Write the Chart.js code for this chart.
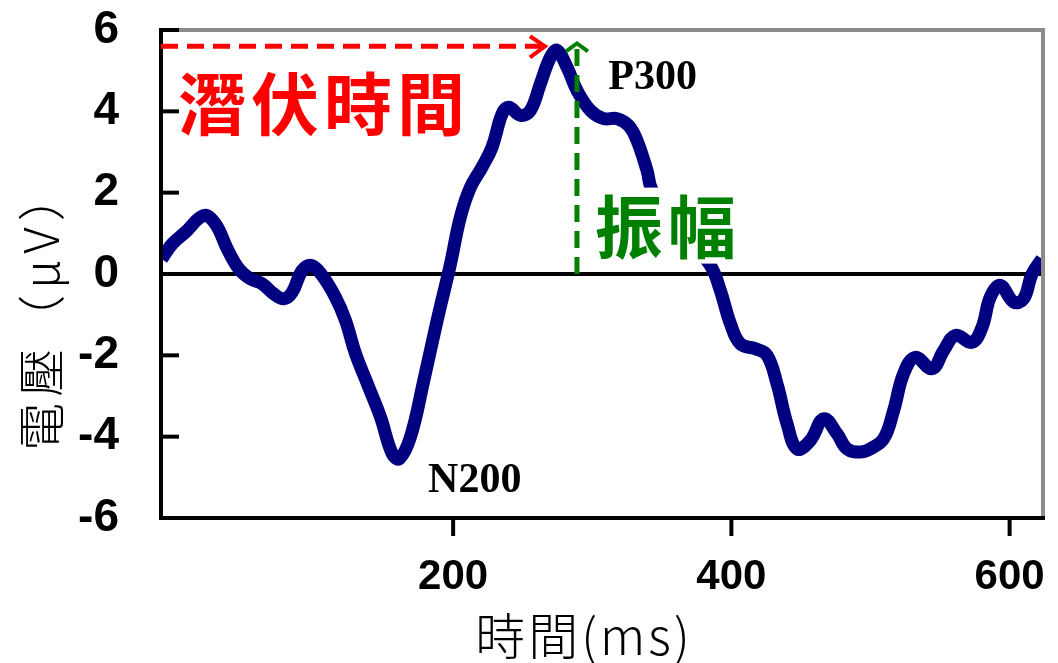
<!DOCTYPE html>
<html>
<head>
<meta charset="utf-8">
<script src="https://cdn.jsdelivr.net/npm/chart.js@4.4.1/dist/chart.umd.min.js"></script>
<style>
  html, body { margin: 0; padding: 0; background: #ffffff; }
  #wrap { width: 1058px; height: 663px; position: relative; }
</style>
</head>
<body>
<div id="wrap"><canvas id="erp"></canvas></div>
<script>
// ERP waveform: time (ms) and voltage (µV)
const timeMs = [-9.5, -1.9, 7.6, 20.8, 29.2, 37.6, 45.9, 54.3, 62.7, 71.1, 78.3, 84.3, 91.5, 98.2, 105.9,
  115.4, 122.6, 129.8, 139.3, 147.8, 156.2, 161.4, 169.3, 178.9, 188.5, 198.1, 205.2, 212.4, 220.8, 228.0,
  235.2, 240.0, 248.4, 255.5, 262.7, 269.9, 274.7, 281.9, 289.1, 298.7, 308.2, 317.9, 326.2, 332.2, 339.4,
  343.2, 364.0, 384.9, 392.1, 399.3, 406.5, 417.3, 425.7, 432.8, 440.0, 447.2, 456.8, 466.3, 476.0, 483.1,
  492.7, 499.9, 509.5, 516.6, 523.8, 532.2, 544.2, 552.6, 561.0, 573.0, 580.2, 586.1, 593.3, 602.9, 610.1,
  616.1, 623.3];
const voltageUv = [0.37, 0.74, 1.03, 1.44, 1.23, 0.62, 0.13, -0.12, -0.24, -0.49, -0.61, -0.45, 0.09, 0.21, -0.04,
  -0.57, -1.14, -1.96, -2.78, -3.52, -4.42, -4.54, -4.01, -2.62, -1.14, 0.25, 1.40, 2.13, 2.63, 3.12,
  3.94, 4.10, 3.90, 4.02, 4.68, 5.33, 5.50, 5.08, 4.51, 4.02, 3.82, 3.82, 3.65, 3.28, 2.54,
  2.05, 1.07, 0.21, -0.41, -1.22, -1.72, -1.84, -2.00, -2.70, -3.68, -4.30, -4.09, -3.56, -3.93, -4.30,
  -4.38, -4.30, -4.05, -3.36, -2.45, -2.05, -2.33, -1.88, -1.51, -1.68, -1.31, -0.57, -0.28, -0.69, -0.61,
  0.00, 0.37];

// Axis ranges and tick labels
const xRange = [-10, 624];
const xTickValues = [200, 400, 600];
const yRange = [-6, 6];
const yTickValues = [-6, -4, -2, 0, 2, 4, 6];

// Annotations (data units)
const latencyArrow = { y: 5.6, fromMs: -10, toMs: 266 };
const amplitudeArrow = { ms: 289, fromUv: 0, toUv: 5.67 };
const peakLabels = [
  { text: 'P300', ms: 311.5, uv: 4.56 },
  { text: 'N200', ms: 182, uv: -5.35 }
];
const latencyLabel = { text: '潛伏時間', ms: 2.3, uv: 4.22 };
const amplitudeLabel = { text: '振幅', ms: 302.0, uv: 1.19 };
const xTitle = '時間(ms)';
const yTitle = '電壓（μV）';

const CJK = '"Noto Sans CJK TC", "Noto Sans CJK SC", sans-serif';

function chevron(ctx, tipX, tipY, dx1, dy1, dx2, dy2) {
  ctx.beginPath();
  ctx.moveTo(tipX + dx1, tipY + dy1);
  ctx.lineTo(tipX, tipY);
  ctx.lineTo(tipX + dx2, tipY + dy2);
  ctx.stroke();
}

const erpDecor = {
  id: 'erpDecor',
  beforeDatasetsDraw(chart) {
    const { ctx, chartArea: a, scales: { y } } = chart;
    const y0 = y.getPixelForValue(0);
    ctx.save();
    ctx.strokeStyle = '#000';
    ctx.lineWidth = 4;
    ctx.beginPath();
    ctx.moveTo(a.left, y0);
    ctx.lineTo(a.right, y0);
    ctx.stroke();
    ctx.restore();
  },
  afterDatasetsDraw(chart) {
    const { ctx, chartArea: a, scales: { x, y } } = chart;
    ctx.save();

    // frame: grey top/right, black left/bottom
    ctx.lineCap = 'square';
    ctx.strokeStyle = '#8c8c8c';
    ctx.lineWidth = 4;
    ctx.beginPath();
    ctx.moveTo(a.left, a.top);
    ctx.lineTo(a.right, a.top);
    ctx.lineTo(a.right, a.bottom);
    ctx.stroke();
    ctx.strokeStyle = '#000';
    ctx.beginPath();
    ctx.moveTo(a.left, a.top);
    ctx.lineTo(a.left, a.bottom);
    ctx.lineTo(a.right, a.bottom);
    ctx.stroke();

    // tick marks: inside on y, outside on x
    ctx.lineCap = 'butt';
    ctx.lineWidth = 4;
    yTickValues.forEach(v => {
      const py = y.getPixelForValue(v);
      ctx.beginPath();
      ctx.moveTo(a.left, py);
      ctx.lineTo(a.left + 18, py);
      ctx.stroke();
    });
    xTickValues.forEach(v => {
      const px = x.getPixelForValue(v);
      ctx.beginPath();
      ctx.moveTo(px, a.bottom);
      ctx.lineTo(px, a.bottom + 18);
      ctx.stroke();
    });

    // amplitude label on a white patch
    ctx.font = `bold 68px ${CJK}`;
    ctx.letterSpacing = '5px';
    const ampX = x.getPixelForValue(amplitudeLabel.ms);
    const ampY = y.getPixelForValue(amplitudeLabel.uv);
    const ampW = ctx.measureText(amplitudeLabel.text).width;
    ctx.fillStyle = '#ffffff';
    ctx.fillRect(ampX - 6, ampY - 38, ampW + 10, 76);
    ctx.fillStyle = '#008000';
    ctx.textBaseline = 'middle';
    ctx.textAlign = 'left';
    ctx.fillText(amplitudeLabel.text, ampX, ampY + 2);

    // latency label
    ctx.fillStyle = '#ff0000';
    ctx.fillText(latencyLabel.text, x.getPixelForValue(latencyLabel.ms), y.getPixelForValue(latencyLabel.uv) + 2);
    ctx.letterSpacing = '0px';

    // latency arrow (red, dashed, horizontal)
    ctx.strokeStyle = '#ff0000';
    ctx.lineWidth = 5;
    const ly = y.getPixelForValue(latencyArrow.y);
    const lx0 = x.getPixelForValue(latencyArrow.fromMs);
    const lx1 = x.getPixelForValue(latencyArrow.toMs);
    ctx.setLineDash([17, 9]);
    ctx.beginPath();
    ctx.moveTo(lx0, ly);
    ctx.lineTo(lx1 - 4, ly);
    ctx.stroke();
    ctx.setLineDash([]);
    ctx.lineWidth = 4;
    chevron(ctx, lx1, ly, -15, -10, -15, 11);

    // amplitude arrow (green, dashed, vertical)
    ctx.strokeStyle = '#008000';
    ctx.lineWidth = 5;
    const ax = x.getPixelForValue(amplitudeArrow.ms);
    const ay0 = y.getPixelForValue(amplitudeArrow.fromUv);
    const ay1 = y.getPixelForValue(amplitudeArrow.toUv);
    ctx.setLineDash([17, 9]);
    ctx.beginPath();
    ctx.moveTo(ax, ay0);
    ctx.lineTo(ax, ay1 + 4);
    ctx.stroke();
    ctx.setLineDash([]);
    ctx.lineWidth = 4;
    chevron(ctx, ax, ay1, -11, 8, 11, 8);

    // component labels
    ctx.fillStyle = '#000';
    ctx.font = 'bold 42px "Liberation Serif", "Times New Roman", serif';
    ctx.textBaseline = 'alphabetic';
    peakLabels.forEach(p => {
      ctx.fillText(p.text, x.getPixelForValue(p.ms), y.getPixelForValue(p.uv));
    });

    // axis titles
    ctx.font = `300 50px ${CJK}`;
    ctx.letterSpacing = '3px';
    ctx.textAlign = 'center';
    ctx.textBaseline = 'middle';
    ctx.fillText(xTitle, (a.left + a.right) / 2 - 18, a.bottom + 118);
    ctx.translate(a.left - 120, 309);
    ctx.rotate(-Math.PI / 2);
    ctx.font = `300 48px ${CJK}`;
    ctx.letterSpacing = '6px';
    ctx.fillText(yTitle, 0, 0);
    ctx.letterSpacing = '0px';

    ctx.restore();
  }
};

new Chart(document.getElementById('erp'), {
  type: 'scatter',
  data: {
    datasets: [{
      data: timeMs.map((t, i) => ({ x: t, y: voltageUv[i] })),
      showLine: true,
      borderColor: '#000080',
      borderWidth: 13,
      borderJoinStyle: 'round',
      borderCapStyle: 'butt',
      tension: 0.4,
      pointRadius: 0,
      pointHoverRadius: 0,
      fill: false
    }]
  },
  options: {
    responsive: true,
    maintainAspectRatio: false,
    animation: false,
    events: [],
    layout: { padding: { top: 30, right: 15, left: 0, bottom: 0 } },
    plugins: { legend: { display: false }, tooltip: { enabled: false } },
    scales: {
      x: {
        type: 'linear',
        min: xRange[0],
        max: xRange[1],
        afterBuildTicks: s => { s.ticks = xTickValues.map(v => ({ value: v })); },
        afterFit: s => { s.height = 145; s.paddingLeft = 0; s.paddingRight = 0; },
        grid: { display: false, drawTicks: false },
        border: { display: false },
        ticks: {
          padding: 34,
          maxRotation: 0,
          color: '#000',
          font: { family: '"Liberation Sans", Arial, sans-serif', size: 42, weight: 'bold' }
        }
      },
      y: {
        type: 'linear',
        min: yRange[0],
        max: yRange[1],
        afterBuildTicks: s => { s.ticks = yTickValues.map(v => ({ value: v })); },
        afterFit: s => { s.width = 161; s.paddingTop = 0; s.paddingBottom = 0; },
        grid: { display: false, drawTicks: false },
        border: { display: false },
        ticks: {
          padding: 42,
          color: '#000',
          font: { family: '"Liberation Sans", Arial, sans-serif', size: 46, weight: 'bold' }
        }
      }
    }
  },
  plugins: [erpDecor]
});
</script>
</body>
</html>
